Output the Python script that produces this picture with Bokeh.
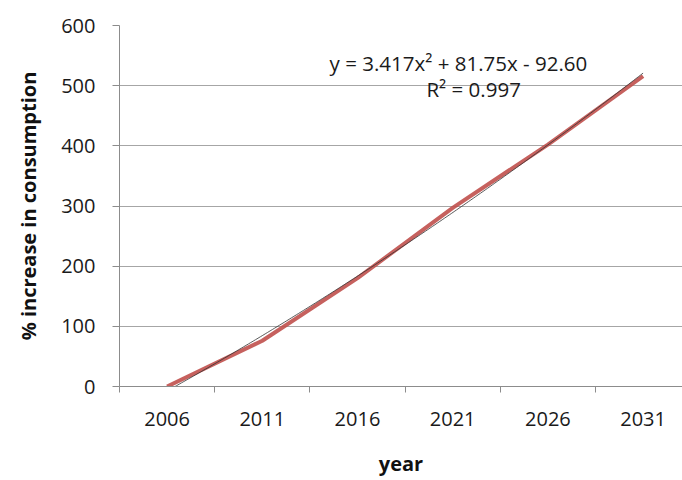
import numpy as np
from bokeh.plotting import figure
from bokeh.models import FixedTicker, Range1d, Label
from bokeh.embed import file_html
from bokeh.resources import INLINE

# Category labels and the measured series
years = ["2006", "2011", "2016", "2021", "2026", "2031"]
increase = [0, 76, 180, 297, 402, 516]

# Quadratic trendline coefficients (x = category index 1..6)
coef_a = 3.417
coef_b = 81.75
coef_c = -92.60
r_squared = 0.997

y_ticks = [0, 100, 200, 300, 400, 500, 600]

FONT = "Open Sans"
GRID = "#a6a6a6"
AXIS = "#8c8c8c"

idx = list(range(1, len(years) + 1))

p = figure(
    width=682, height=480, output_backend="svg", toolbar_location=None,
    x_range=Range1d(0.5, 6.414), y_range=Range1d(0, 600),
    min_border_left=119, min_border_right=0, min_border_top=25, min_border_bottom=94,
)
p.outline_line_color = None
p.background_fill_color = "white"
p.border_fill_color = "white"

# Gridlines: horizontal only
p.xgrid.visible = False
p.ygrid.ticker = FixedTicker(ticks=y_ticks)
p.ygrid.grid_line_color = GRID
p.ygrid.grid_line_width = 1

# x axis: labels at category centres, tick marks between categories
xax = p.xaxis[0]
xax.ticker = FixedTicker(ticks=idx, minor_ticks=[i + 0.5 for i in range(0, len(years) + 1)])
xax.major_label_overrides = {i: y for i, y in zip(idx, years)}
xax.major_tick_out = 0
xax.major_tick_in = 0
xax.minor_tick_out = 6
xax.minor_tick_in = 0
xax.minor_tick_line_color = AXIS
xax.axis_line_color = AXIS
xax.major_label_text_font = FONT
xax.major_label_text_font_size = "20px"
xax.major_label_text_color = "#1a1a1a"
xax.major_label_standoff = 19
xax.axis_label = "year"
xax.axis_label_text_font = FONT
xax.axis_label_text_font_style = "bold"
xax.axis_label_text_font_size = "20px"
xax.axis_label_text_color = "#111111"
xax.axis_label_standoff = 21

yax = p.yaxis[0]
yax.ticker = FixedTicker(ticks=y_ticks, minor_ticks=[])
yax.major_tick_out = 7
yax.major_tick_in = 0
yax.major_tick_line_color = AXIS
yax.axis_line_color = AXIS
yax.major_label_text_font = FONT
yax.major_label_text_font_size = "20px"
yax.major_label_text_color = "#1a1a1a"
yax.major_label_standoff = 17
yax.axis_label = "% increase in consumption"
yax.axis_label_text_font = FONT
yax.axis_label_text_font_style = "bold"
yax.axis_label_text_font_size = "20px"
yax.axis_label_text_color = "#111111"
yax.axis_label_standoff = 16

# Data series
p.line(idx, increase, line_color="#c0504d", line_width=4, line_alpha=0.9)

# Polynomial trendline from the printed coefficients
tx = np.linspace(1, len(years), 200)
ty = coef_a * tx ** 2 + coef_b * tx + coef_c
p.line(tx, ty, line_color="#333333", line_width=1, line_alpha=0.8)

eq_text = f"y = {coef_a:.3f}x\u00b2 + {coef_b:.2f}x - {abs(coef_c):.2f}"
r2_text = f"R\u00b2 = {r_squared:.3f}"
p.add_layout(Label(x=4.06, y=538, text=eq_text, text_align="center", text_baseline="middle",
                   text_font=FONT, text_font_size="20.5px", text_color="#1a1a1a"))
p.add_layout(Label(x=4.22, y=495, text=r2_text, text_align="center", text_baseline="middle",
                   text_font=FONT, text_font_size="20.5px", text_color="#1a1a1a"))

open("out.html", "w").write(file_html(p, INLINE))
